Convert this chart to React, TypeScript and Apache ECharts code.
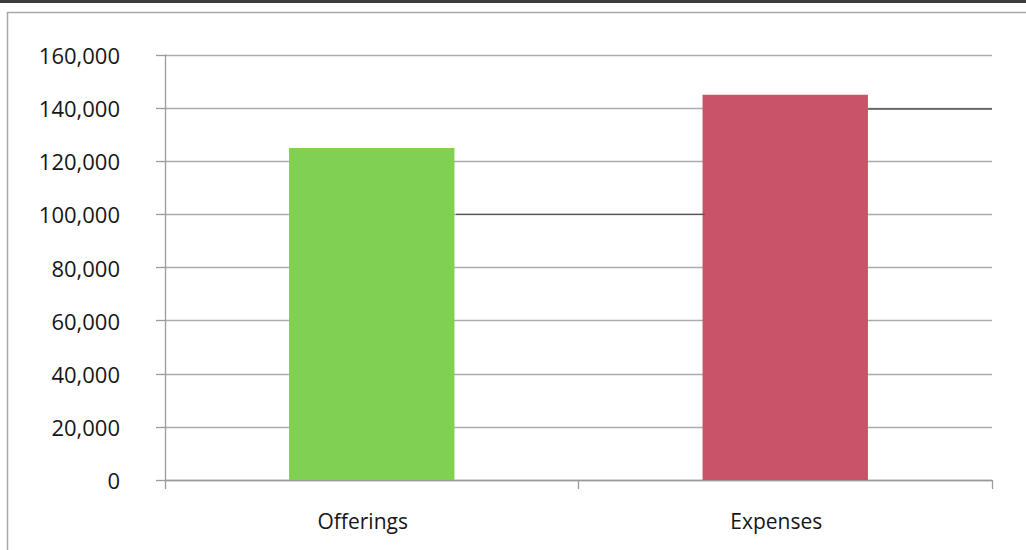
import React, { useEffect, useRef } from "react";
import * as echarts from "echarts";

const categories = ["Offerings", "Expenses"];
const values = [125000, 145000];
const barColors = ["#80d152", "#c9546a"];
const yTicks = { min: 0, max: 160000, interval: 20000 };

export default function App() {
  const ref = useRef<HTMLDivElement>(null);
  useEffect(() => {
    if (!ref.current) return;
    const chart = echarts.init(ref.current, undefined, { renderer: "svg" });
    const font = "'Open Sans', 'Lato', sans-serif";
    chart.setOption({
      animation: false,
      backgroundColor: "#ffffff",
      grid: { left: 165, right: 34, top: 55, bottom: 70, containLabel: false },
      xAxis: {
        type: "category",
        data: categories,
        boundaryGap: true,
        axisLine: { show: true, lineStyle: { color: "#9a9a9a", width: 1.3 } },
        axisTick: { show: true, length: 9, lineStyle: { color: "#9a9a9a", width: 1.3 } },
        axisLabel: {
          color: "#161616",
          fontFamily: font,
          fontSize: 21,
          fontWeight: 500,
          margin: 30,
          padding: [0, 18, 0, 0],
        },
        splitLine: { show: false },
      },
      yAxis: {
        type: "value",
        min: yTicks.min,
        max: yTicks.max,
        interval: yTicks.interval,
        axisLine: { show: true, lineStyle: { color: "#9a9a9a", width: 1.3 } },
        axisTick: { show: true, length: 9, lineStyle: { color: "#9a9a9a", width: 1.3 } },
        axisLabel: {
          color: "#161616",
          fontFamily: font,
          fontSize: 22,
          fontWeight: 500,
          margin: 45,
          formatter: (v: number) => v.toLocaleString("en-US"),
        },
        splitLine: { show: true, lineStyle: { color: "#acacac", width: 1.3 } },
      },
      series: [
        {
          type: "bar",
          barWidth: "40%",
          data: values.map((v, i) => ({ value: v, itemStyle: { color: barColors[i] } })),
        },
      ],
      graphic: [
        { type: "rect", shape: { x: 0, y: 0, width: 1026, height: 3 }, style: { fill: "#3c3c3c" }, z: 10 },
        {
          type: "rect",
          shape: { x: 7.5, y: 12.5, width: 1040, height: 560 },
          style: { fill: "none", stroke: "#a8a8a8", lineWidth: 1.5 },
          z: 10,
        },
        {
          type: "line",
          shape: { x1: 456, y1: 214.4, x2: 705, y2: 214.4 },
          style: { stroke: "#555555", lineWidth: 1.4 },
          z: 10,
        },
        {
          type: "line",
          shape: { x1: 868, y1: 109, x2: 992, y2: 109 },
          style: { stroke: "#555555", lineWidth: 1.4 },
          z: 10,
        },
      ],
    });
    return () => chart.dispose();
  }, []);
  return (
    <div
      ref={ref}
      style={{ position: "fixed", left: 0, top: 0, width: 1026, height: 550 }}
    />
  );
}
